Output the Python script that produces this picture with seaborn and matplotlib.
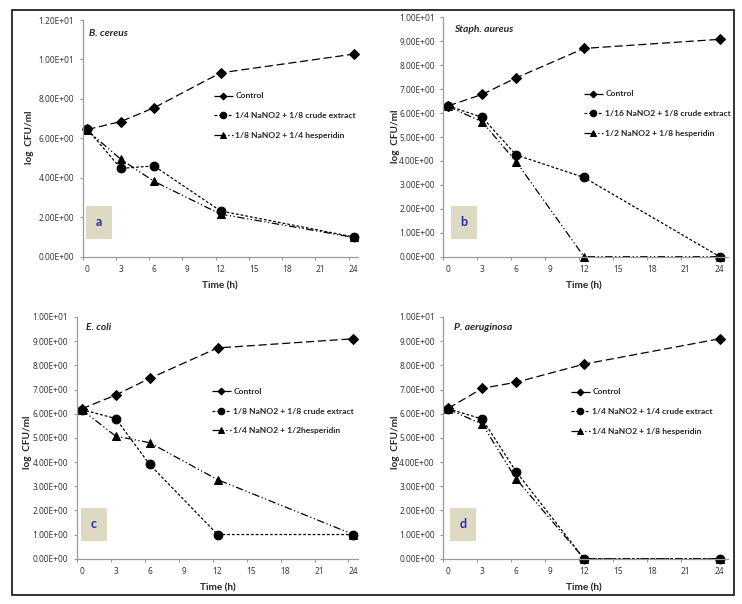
import matplotlib
matplotlib.use("Agg")
import matplotlib.pyplot as plt
import matplotlib.ticker as mticker
from matplotlib.patches import Rectangle
import seaborn as sns
import pandas as pd

# ---------------- data ----------------
times = [0, 3, 6, 12, 24]
xtick_labels = ["0", "3", "6", "9", "12", "15", "18", "21", "24"]

a_species = "B. cereus"
a_control = [6.45, 6.85, 7.55, 9.32, 10.27]
a_crude = [6.45, 4.48, 4.60, 2.32, 1.00]
a_hesp = [6.40, 4.94, 3.82, 2.16, 0.98]
a_labels = ["Control", "1/4 NaNO2 + 1/8 crude extract", "1/8 NaNO2 + 1/4 hesperidin"]

b_species = "Staph. aureus"
b_control = [6.30, 6.78, 7.47, 8.70, 9.08]
b_crude = [6.30, 5.82, 4.25, 3.31, 0.00]
b_hesp = [6.28, 5.63, 3.97, 0.00, 0.00]
b_labels = ["Control", "1/16 NaNO2 + 1/8 crude extract", "1/2 NaNO2 + 1/8 hesperidin"]

c_species = "E. coli"
c_control = [6.20, 6.77, 7.46, 8.72, 9.10]
c_crude = [6.17, 5.80, 3.90, 1.00, 1.00]
c_hesp = [6.17, 5.07, 4.80, 3.27, 1.00]
c_labels = ["Control", "1/8 NaNO2 + 1/8 crude extract", "1/4 NaNO2 + 1/2hesperidin"]

d_species = "P. aeruginosa"
d_control = [6.22, 7.05, 7.30, 8.05, 9.10]
d_crude = [6.20, 5.78, 3.60, 0.00, 0.00]
d_hesp = [6.18, 5.57, 3.30, 0.00, 0.00]
d_labels = ["Control", "1/4 NaNO2 + 1/4 crude extract", "1/4 NaNO2 + 1/8 hesperidin"]

panel_letters = ["a", "b", "c", "d"]

# ---------------- style ----------------
sns.set_theme(style="ticks")
plt.rcParams["font.family"] = ["Lato", "DejaVu Sans"]

W, H = 742, 604
fig = plt.figure(figsize=(W / 100, H / 100), dpi=100)
fig.patch.set_facecolor("white")


def fx(px):
    return px / W


def fy(py):
    return 1 - py / H


AXIS_GRAY = "#9a9a9a"
TICK_TXT = "#3a3a3a"
TICK_FONT = ["Noto Sans", "DejaVu Sans"]

panels = [
    dict(species=a_species, series=[a_control, a_crude, a_hesp], labels=a_labels,
         box=(82.5, 358, 20, 256.7), x0=-0.45, x1=24.4, ymax=12, ystep=2,
         sp=(89, 33), ylab=(30, 137), xlab=(220, 286), leg=(214, 92.5),
         lbox=(86, 206, 112, 238.5)),
    dict(species=b_species, series=[b_control, b_crude, b_hesp], labels=b_labels,
         box=(443.3, 727.7, 17.3, 256.7), x0=-0.44, x1=24.7, ymax=10, ystep=1,
         sp=(454, 29), ylab=(395, 136), xlab=(584, 286), leg=(584, 90.5),
         lbox=(451, 206, 477, 238.5)),
    dict(species=c_species, series=[c_control, c_crude, c_hesp], labels=c_labels,
         box=(76.7, 358, 317, 558.7), x0=-0.44, x1=24.4, ymax=10, ystep=1,
         sp=(86, 328), ylab=(27, 442), xlab=(218, 588), leg=(212, 388),
         lbox=(81, 508, 107, 540.5)),
    dict(species=d_species, series=[d_control, d_crude, d_hesp], labels=d_labels,
         box=(443.3, 727.7, 317, 558.7), x0=-0.44, x1=24.7, ymax=10, ystep=1,
         sp=(454, 328), ylab=(395, 442), xlab=(584, 588), leg=(571, 388.5),
         lbox=(450, 508, 476, 540.5)),
]

styles = [
    dict(marker="D", markersize=4.6, linestyle=(0, (6.5, 3))),
    dict(marker="o", markersize=6.3, linestyle=(0, (2.2, 1.6))),
    dict(marker="^", markersize=5.2, linestyle=(0, (6, 2, 1, 2, 1, 2))),
]

for i, p in enumerate(panels):
    l, r, t, b = p["box"]
    ax = fig.add_axes([fx(l), fy(b), fx(r) - fx(l), fy(t) - fy(b)])
    ax.set_facecolor("white")
    for s, lab, st in zip(p["series"], p["labels"], styles):
        df = pd.DataFrame({"t": times, "v": s})
        sns.lineplot(data=df, x="t", y="v", ax=ax, color="black", linewidth=0.9,
                     marker=st["marker"], markersize=st["markersize"],
                     markeredgecolor="black", markerfacecolor="black",
                     linestyle=st["linestyle"], label=lab, clip_on=False,
                     estimator=None, sort=False)
    ax.set_xlim(p["x0"], p["x1"])
    ax.set_ylim(0, p["ymax"])
    # labels at 0..24; tick marks offset like original (minor ticks)
    ax.set_xticks([0, 3, 6, 9, 12, 15, 18, 21, 24])
    ax.set_xticklabels(xtick_labels)
    ax.set_xticks([p["x0"] + 3 * k for k in range(9)], minor=True)
    ax.tick_params(axis="x", which="major", length=0, pad=6.0, labelsize=6.0,
                   labelcolor=TICK_TXT)
    ax.tick_params(axis="x", which="minor", length=2.2, width=0.8, color=AXIS_GRAY,
                   direction="out")
    yt = [k * p["ystep"] for k in range(int(p["ymax"] / p["ystep"]) + 1)]
    ax.set_yticks(yt)
    ax.yaxis.set_major_formatter(mticker.FuncFormatter(lambda v, pos: "%.2E" % v))
    ax.tick_params(axis="y", which="major", length=2.2, width=0.8, color=AXIS_GRAY,
                   direction="out", pad=4.0, labelsize=6.0, labelcolor=TICK_TXT)
    for lbl in ax.get_xticklabels() + ax.get_yticklabels():
        lbl.set_fontfamily(TICK_FONT)
    for sp in ["top", "right"]:
        ax.spines[sp].set_visible(False)
    for sp in ["left", "bottom"]:
        ax.spines[sp].set_color(AXIS_GRAY)
        ax.spines[sp].set_linewidth(0.9)
    ax.set_xlabel("")
    ax.set_ylabel("")

    # legend
    h, lb = ax.get_legend_handles_labels()
    ax.legend(h, lb, loc="upper left", bbox_to_anchor=(fx(p["leg"][0]), fy(p["leg"][1])),
              bbox_transform=fig.transFigure, frameon=False,
              handlelength=2.2, handletextpad=0.3, labelspacing=1.5, markerscale=0.75,
              borderpad=0, borderaxespad=0, prop=dict(weight="bold", size=6.1))

    # species name
    fig.text(fx(p["sp"][0]), fy(p["sp"][1]), p["species"], fontsize=7.4,
             fontweight="bold", fontstyle="italic", ha="left", va="center")
    # axis titles
    fig.text(fx(p["ylab"][0]), fy(p["ylab"][1]), "log  CFU/ml", fontsize=7.2,
             fontweight="bold", rotation=90, ha="center", va="center")
    fig.text(fx(p["xlab"][0]), fy(p["xlab"][1]), "Time (h)", fontsize=7.2,
             fontweight="bold", ha="center", va="center")
    # panel letter box
    bx0, by0, bx1, by1 = p["lbox"]
    fig.patches.append(Rectangle((fx(bx0), fy(by1)), fx(bx1) - fx(bx0), fy(by0) - fy(by1),
                                 transform=fig.transFigure, facecolor="#ddd9c3",
                                 edgecolor="none", zorder=5))
    fig.text(fx((bx0 + bx1) / 2), fy((by0 + by1) / 2), panel_letters[i], fontsize=9,
             fontweight="bold", color="#1f2fb0", ha="center", va="center", zorder=6)

# outer border
fig.patches.append(Rectangle((fx(11.5), fy(594.5)), fx(733.5) - fx(11.5), fy(9.5) - fy(594.5),
                             transform=fig.transFigure, facecolor="none",
                             edgecolor="#222222", linewidth=1.3, zorder=10))

fig.savefig("out.png", dpi=100, facecolor="white")
